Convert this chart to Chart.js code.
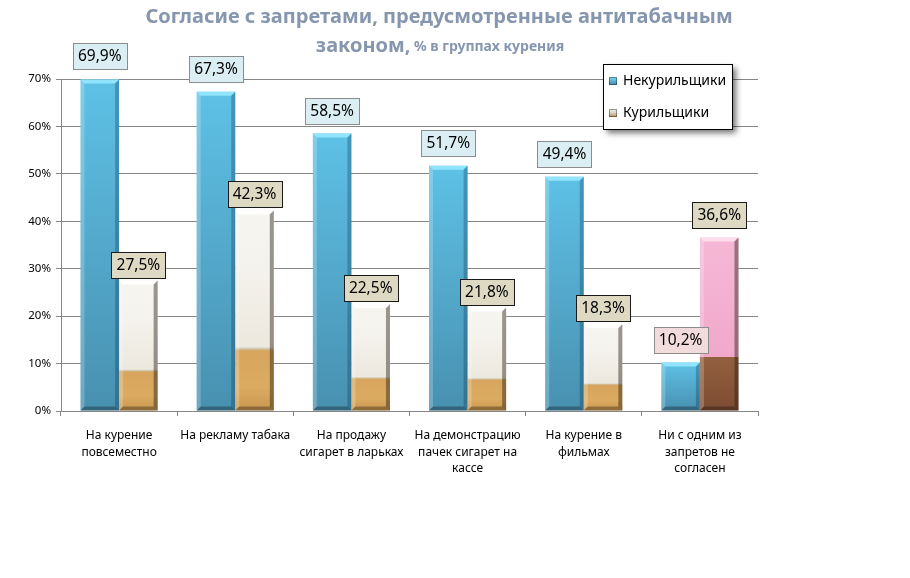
<!DOCTYPE html>
<html><head><meta charset="utf-8">
<script src="https://cdn.jsdelivr.net/npm/chart.js@4.4.1/dist/chart.umd.min.js"></script>
<style>html,body{margin:0;padding:0;background:#fff}#wrap{width:910px;height:578px;position:relative}</style>
</head><body><div id="wrap"><canvas id="c"></canvas></div>
<script>
// ---- data ----
const categories = [["На курение","повсеместно"],["На рекламу табака"],["На продажу","сигарет в ларьках"],["На демонстрацию","пачек сигарет на","кассе"],["На курение в","фильмах"],["Ни с одним из","запретов не","согласен"]];
const seriesNames = ["Некурильщики","Курильщики"];
const nonSmokers = [69.9,67.3,58.5,51.7,49.4,10.2];
const smokers = [27.5,42.3,22.5,21.8,18.3,36.6];
const yMin = 0, yMax = 70, yStep = 10;
const titleMain = "Согласие с запретами, предусмотренные антитабачным";
const titleSecond = "законом,";
const titleSub = " % в группах курения";

// ---- styling ----
const FONT = "'Noto Sans', 'DejaVu Sans', sans-serif";
const FILTER_SHARE = 0.31;
const specialIndex = categories.length - 1;

function geom(ctx){
  const y = ctx.chart.scales.y;
  return {top: y.getPixelForValue(ctx.raw), base: y.getPixelForValue(0)};
}
function blueFill(ctx){
  const c = ctx.chart;
  if (ctx.type !== 'data' || !c.chartArea) return '#56b2d8';
  const g = geom(ctx);
  const gr = c.ctx.createLinearGradient(0, g.top, 0, g.base);
  gr.addColorStop(0, '#5ec1e6');
  gr.addColorStop(1, '#4890b0');
  return gr;
}
function smokerFill(ctx){
  const c = ctx.chart;
  if (ctx.type !== 'data' || !c.chartArea) return '#eeeae0';
  const g = geom(ctx);
  const gr = c.ctx.createLinearGradient(0, g.base, 0, g.top);
  if (ctx.dataIndex === specialIndex){
    gr.addColorStop(0, '#7c4c33');
    gr.addColorStop(FILTER_SHARE, '#93603f');
    gr.addColorStop(FILTER_SHARE + 0.003, '#f0a9cb');
    gr.addColorStop(1, '#f6b8d6');
  } else {
    gr.addColorStop(0, '#c9964f');
    gr.addColorStop(0.12, '#dcab62');
    gr.addColorStop(FILTER_SHARE - 0.01, '#d7a55d');
    gr.addColorStop(FILTER_SHARE, '#cfc6b0');
    gr.addColorStop(FILTER_SHARE + 0.01, '#ece8de');
    gr.addColorStop(0.7, '#f4f2ec');
    gr.addColorStop(1, '#f7f5f0');
  }
  return gr;
}

const bevelPlugin = {
  id: 'bevel',
  afterDatasetsDraw(chart){
    const ctx = chart.ctx;
    chart.data.datasets.forEach((ds, di) => {
      const meta = chart.getDatasetMeta(di);
      meta.data.forEach((el, i) => {
        const p = el.getProps(['x','y','base','width'], true);
        const l = p.x - p.width/2, r = p.x + p.width/2, t = p.y, b = p.base;
        const k = Math.min(4, (b - t)/3);
        let topCol = di === 0 ? 'rgba(150,232,255,0.9)' : (i === specialIndex ? 'rgba(255,225,240,0.9)' : 'rgba(255,255,255,0.95)');
        const poly = (pts, col) => { ctx.beginPath(); ctx.moveTo(pts[0][0], pts[0][1]); for (let j=1;j<pts.length;j++) ctx.lineTo(pts[j][0], pts[j][1]); ctx.closePath(); ctx.fillStyle = col; ctx.fill(); };
        ctx.save();
        poly([[l,t],[r,t],[r-k,t+k],[l+k,t+k]], topCol);
        poly([[l,t],[l+k,t+k],[l+k,b-k],[l,b]], 'rgba(255,255,255,0.22)');
        poly([[r,t],[r-k,t+k],[r-k,b-k],[r,b]], di === 0 ? 'rgba(0,40,70,0.28)' : 'rgba(40,30,20,0.45)');
        poly([[l,b],[l+k,b-k],[r-k,b-k],[r,b]], 'rgba(0,0,0,0.3)');
        ctx.restore();
      });
    });
  }
};

function fmt(v){ return v.toFixed(1).replace('.', ',') + '%'; }

const labelPlugin = {
  id: 'boxLabels',
  afterDatasetsDraw(chart){
    const ctx = chart.ctx;
    ctx.save();
    ctx.font = "15.5px " + FONT;
    ctx.textAlign = 'center';
    ctx.textBaseline = 'middle';
    chart.data.datasets.forEach((ds, di) => {
      const meta = chart.getDatasetMeta(di);
      meta.data.forEach((el, i) => {
        const p = el.getProps(['x','y'], true);
        const txt = fmt(ds.data[i]);
        const w = Math.round(ctx.measureText(txt).width + 10);
        const h = 26;
        const gap = di === 0 ? 10 : (i === specialIndex ? 9 : 3);
        const x0 = Math.round(p.x - w/2) + 0.5, y0 = Math.round(p.y - gap - h) + 0.5;
        let fill, stroke;
        if (di === 0){ fill = i === specialIndex ? '#f2dcdb' : '#dbeef4'; stroke = '#8c8c8c'; }
        else { fill = '#ddd9c3'; stroke = '#1a1a1a'; }
        ctx.fillStyle = fill; ctx.fillRect(x0, y0, w, h);
        ctx.strokeStyle = stroke; ctx.lineWidth = 1; ctx.strokeRect(x0, y0, w, h);
        ctx.fillStyle = '#000';
        ctx.fillText(txt, p.x, y0 + h/2 + 0.5);
      });
    });
    ctx.restore();
  }
};

const titlePlugin = {
  id: 'titleText',
  afterDraw(chart){
    const ctx = chart.ctx;
    ctx.save();
    ctx.fillStyle = '#8596ae';
    ctx.textBaseline = 'middle';
    ctx.textAlign = 'center';
    ctx.font = "bold 20px " + FONT;
    ctx.fillText(titleMain, 439, 17);
    const f1 = "bold 20px " + FONT, f2 = "bold 14px " + FONT;
    ctx.font = f1; const w1 = ctx.measureText(titleSecond).width;
    ctx.font = f2; const w2 = ctx.measureText(titleSub).width;
    const sx = 440 - (w1 + w2)/2;
    ctx.textAlign = 'left';
    ctx.font = f1; ctx.fillText(titleSecond, sx, 46);
    ctx.font = f2; ctx.fillText(titleSub, sx + w1, 47);
    ctx.restore();
  }
};

const legendPlugin = {
  id: 'boxLegend',
  afterDraw(chart){
    const ctx = chart.ctx;
    const bx = 603.5, by = 64.5, bw = 129, bh = 65;
    ctx.save();
    ctx.shadowColor = 'rgba(0,0,0,0.55)';
    ctx.shadowBlur = 6; ctx.shadowOffsetX = 3; ctx.shadowOffsetY = 3;
    ctx.fillStyle = '#fff'; ctx.fillRect(bx, by, bw, bh);
    ctx.restore();
    ctx.save();
    ctx.strokeStyle = '#000'; ctx.lineWidth = 1; ctx.strokeRect(bx, by, bw, bh);
    ctx.font = "14px " + FONT; ctx.fillStyle = '#000'; ctx.textBaseline = 'middle'; ctx.textAlign = 'left';
    const rows = [81, 113];
    seriesNames.forEach((name, i) => {
      const y = rows[i];
      const g = ctx.createLinearGradient(0, y-4, 0, y+4);
      if (i === 0){ g.addColorStop(0,'#7fd8f2'); g.addColorStop(1,'#3f89aa'); }
      else { g.addColorStop(0,'#f0ede6'); g.addColorStop(0.5,'#d8d2c2'); g.addColorStop(1,'#b08a55'); }
      ctx.fillStyle = g; ctx.fillRect(609, y-4, 8, 8);
      ctx.strokeStyle = 'rgba(0,0,0,0.35)'; ctx.strokeRect(609.5, y-3.5, 7, 7);
      ctx.fillStyle = '#000';
      ctx.fillText(name, 623, y);
    });
    ctx.restore();
  }
};

new Chart(document.getElementById('c'), {
  type: 'bar',
  data: {
    labels: categories,
    datasets: [
      { label: seriesNames[0], data: nonSmokers, backgroundColor: blueFill, borderWidth: 0, categoryPercentage: 0.664, barPercentage: 1 },
      { label: seriesNames[1], data: smokers, backgroundColor: smokerFill, borderWidth: 0, categoryPercentage: 0.664, barPercentage: 1 }
    ]
  },
  options: {
    responsive: true, maintainAspectRatio: false, animation: false,
    layout: { padding: { top: 79, right: 152, left: 0, bottom: 0 } },
    plugins: { legend: { display: false }, tooltip: { enabled: false }, title: { display: false } },
    scales: {
      x: {
        grid: { offset: true, drawOnChartArea: false, drawTicks: true, tickLength: 5, color: '#868686' },
        border: { color: '#868686' },
        ticks: { color: '#000', font: { family: FONT, size: 12, lineHeight: 1.4 }, padding: 11, maxRotation: 0, autoSkip: false },
        afterFit(s){ s.height = 167; }
      },
      y: {
        min: yMin, max: yMax,
        grid: { color: '#868686', tickLength: 5 },
        border: { color: '#868686' },
        ticks: { stepSize: yStep, color: '#000', font: { family: FONT, size: 11.5 }, padding: 5, callback: v => v + '%' },
        afterFit(s){ s.width = 61; }
      }
    }
  },
  plugins: [bevelPlugin, labelPlugin, titlePlugin, legendPlugin]
});
</script>
</body></html>
